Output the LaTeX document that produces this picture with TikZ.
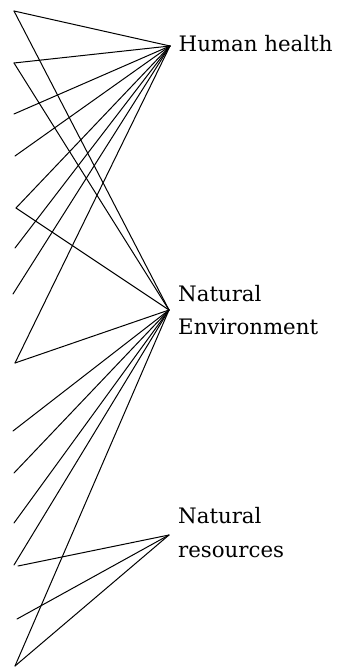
\documentclass[tikz,border=0pt]{standalone}
\usepackage{fontspec}
\setmainfont{DejaVu Serif}
\begin{document}
\begin{tikzpicture}[x=1pt,y=-1pt,
  link/.style={line width=1pt, line cap=round, black},
  lbl/.style={anchor=base west, inner sep=0pt, align=left, font=\fontsize{21.3}{33.3}\selectfont}]
\useasboundingbox (0,0) rectangle (338,668);
% convergence points
\coordinate (hh) at (170,46);
\coordinate (ne) at (169,310);
\coordinate (nr) at (169,535);
% labels (base anchor = baseline of last line)
\node[lbl] (thh) at (178.5,52) {Human health};
\node[lbl] (tne) at (178,334.3) {Natural\\Environment};
\node[lbl] (tnr) at (178,557) {Natural\\resources};
% left end points
\coordinate (p1) at (14,11);
\coordinate (p2) at (14,63);
\coordinate (p3) at (14,114);
\coordinate (p4) at (15,156);
\coordinate (p5) at (16,208);
\coordinate (p6) at (15,248);
\coordinate (p7) at (13,294);
\coordinate (p8) at (15,363);
\coordinate (p9) at (13,431);
\coordinate (p10) at (14,473);
\coordinate (p11) at (14,523);
\coordinate (p12) at (14,565);
\coordinate (p12b) at (18,566);
\coordinate (p13) at (17,619);
\coordinate (p14) at (15,666);
% to Human health
\foreach \p in {p1,p2,p3,p4,p5,p6,p7,p8}
  \draw[link] (\p) -- (hh);
% to Natural Environment
\foreach \p in {p1,p2,p5,p8,p9,p10,p11,p12,p14}
  \draw[link] (\p) -- (ne);
% to Natural resources
\foreach \p in {p12b,p13,p14}
  \draw[link] (\p) -- (nr);
\end{tikzpicture}
\end{document}
